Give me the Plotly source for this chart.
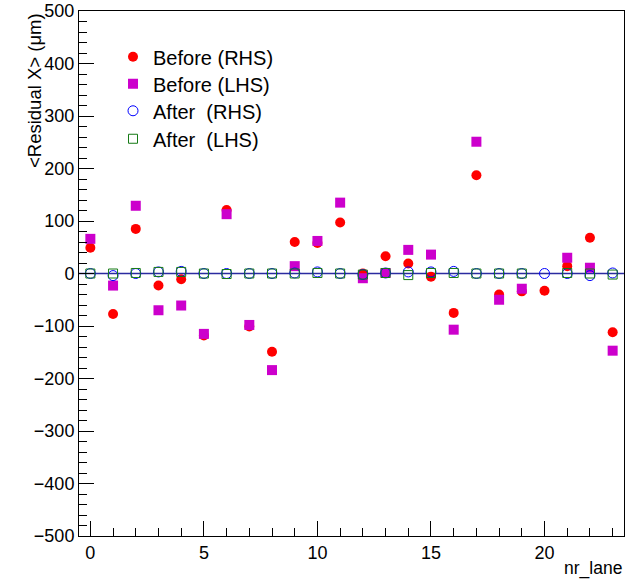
import plotly.graph_objects as go

lanes = list(range(24))

before_rhs = [49, -77, 85, -23, -11, -118, 121, -101, -149, 60, 58, 97,
              0, 33, 19, -6, -75, 187, -40, -34, -33, 14, 68, -112]
before_lhs = [66, -23, 129, -70, -61, -115, 113, -98, -184, 14, 62, 135,
              -9, 1, 45, 36, -107, 251, -50, -29, None, 30, 11, -147]
after_rhs = [0, -4, 0, 3, 4, 0, 0, 0, 0, 1, 3, 0,
             -2, 1, 3, 3, 4, 0, 0, 0, 0, 0, -4, 1]
after_lhs = [0, 0, 1, 3, 3, 0, -1, 0, 0, 0, 1, 0,
             -2, 1, -3, 1, 1, 0, 0, 0, None, 1, 0, -2]

zero_x = [-0.5, 23.5]
zero_y = [0, 0]

FONT = "Liberation Sans, Arial, Helvetica, sans-serif"

fig = go.Figure()
fig.add_trace(go.Scatter(x=zero_x, y=zero_y, mode="lines",
                         line=dict(color="#2b2ba0", width=1.3),
                         showlegend=False, hoverinfo="skip"))
fig.add_trace(go.Scatter(x=lanes, y=before_rhs, mode="markers", name="Before (RHS)",
                         legend="legend",
                         marker=dict(symbol="circle", size=10, color="#ff0000",
                                     line=dict(width=0))))
fig.add_trace(go.Scatter(x=lanes, y=before_lhs, mode="markers", name="Before (LHS)",
                         legend="legend2",
                         marker=dict(symbol="square", size=10, color="#cc00cc",
                                     line=dict(width=0))))
fig.add_trace(go.Scatter(x=lanes, y=after_rhs, mode="markers", name="After  (RHS)",
                         legend="legend3",
                         marker=dict(symbol="circle-open", size=10, color="#0000ff",
                                     line=dict(width=1))))
fig.add_trace(go.Scatter(x=lanes, y=after_lhs, mode="markers", name="After  (LHS)",
                         legend="legend4",
                         marker=dict(symbol="square-open", size=9, color="#157a15",
                                     line=dict(width=1))))


def leg(ypos):
    return dict(x=0.0624, y=ypos, xanchor="left", yanchor="top",
                bgcolor="rgba(0,0,0,0)", font=dict(size=20),
                itemsizing="trace")


fig.update_layout(
    width=626, height=580,
    margin=dict(l=79, r=2, t=11, b=44),
    paper_bgcolor="white", plot_bgcolor="white",
    font=dict(family=FONT, size=18, color="black"),
    showlegend=True,
    legend=leg(0.95),
    legend2=leg(0.8986),
    legend3=leg(0.8471),
    legend4=leg(0.7938),
    xaxis=dict(range=[-0.5, 23.5], showgrid=False, zeroline=False,
               showline=True, linecolor="black", linewidth=1, mirror=True,
               ticks="inside", ticklen=15, tickcolor="black",
               tick0=0, dtick=5, tickfont=dict(size=18),
               minor=dict(ticks="inside", ticklen=8, dtick=1, tick0=0,
                          tickcolor="black", showgrid=False)),
    yaxis=dict(range=[-500, 500], showgrid=False, zeroline=False,
               showline=True, linecolor="black", linewidth=1, mirror=True,
               ticks="inside", ticklen=15, tickcolor="black",
               tick0=0, dtick=100, tickfont=dict(size=18),
               minor=dict(ticks="inside", ticklen=8, dtick=20,
                          tickcolor="black", showgrid=False)),
    annotations=[
        dict(text="nr_lane", xref="paper", yref="paper", x=1.0, y=0,
             xanchor="right", yanchor="top", yshift=-20, showarrow=False,
             font=dict(size=17.5)),
        dict(text="<Residual X> (\u03bcm)", xref="paper", yref="paper",
             x=0, y=1.0, xanchor="right", yanchor="top", xshift=-32,
             textangle=-90, showarrow=False, font=dict(size=18.5)),
    ],
)

fig.write_html("out.html")
